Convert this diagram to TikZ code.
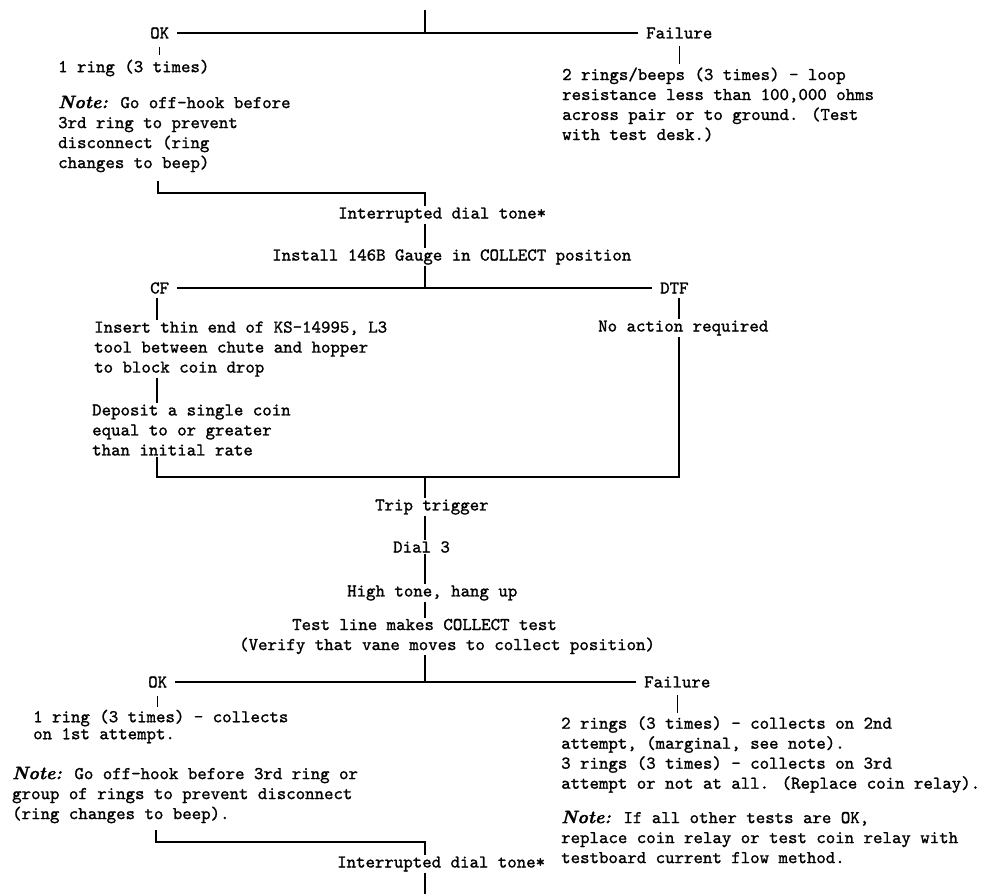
\documentclass[tikz,border=0pt]{standalone}
\usepackage{fontspec}
\usepackage{tikz}
\usetikzlibrary{calc}
\newfontfamily\monofont{lmmono10-regular.otf}[FakeBold=1.2]
\newfontfamily\notefont{lmroman10-bolditalic.otf}[FakeBold=1.5]
\newcommand{\notelbl}{{\notefont Note:}}
\tikzset{
  txt/.style={font=\monofont\fontsize{18}{20}\selectfont, inner xsep=0pt, inner ysep=1pt, anchor=west, align=left},
  lbl/.style={txt, inner xsep=8pt},
  wire/.style={line width=1.4pt},
}
\begin{document}
\begin{tikzpicture}[x=1pt,y=-1pt]
	\useasboundingbox (0,0) rectangle (982,894);
	\coordinate (top) at (425,10);
	\node[lbl] (ok1) at (142,33) {OK};
	\node[lbl] (fail1) at (638,33) {Failure};
	\node[txt] (ring1) at (58,68) {1 ring (3 times)};
	\node[txt] (note1) at (58,134) {\notelbl{} Go off-hook before\\3rd ring to prevent\\disconnect (ring\\changes to beep)};
	\node[txt] (fres1) at (562,104.5) {2 rings/beeps (3 times) \textendash{} loop\\resistance less than 100,000 ohms\\across pair or to ground. (Test\\with test desk.)};
	\coordinate (m1) at (158,193);
	\node[txt] (idt1) at (338,215) {Interrupted dial tone*};
	\node[txt] (inst) at (272,257) {Install 146B Gauge in COLLECT position};
	\node[lbl] (cf) at (142,288) {CF};
	\node[lbl] (dtf) at (652,288) {DTF};
	\node[txt] (ins) at (94,349) {Insert thin end of KS-14995, L3\\tool between chute and hopper\\to block coin drop};
	\node[txt] (dep) at (92,430) {Deposit a single coin\\equal to or greater\\than initial rate};
	\node[txt] (noact) at (598,328) {No action required};
	\coordinate (m2l) at (157,477);
	\coordinate (m2r) at (679,477);
	\node[txt] (trip) at (375,507) {Trip trigger};
	\node[txt] (dial) at (393,547) {Dial 3};
	\node[txt] (high) at (347,593) {High tone, hang up};
	\node[txt] (tst) at (239,636.5) {\hspace*{53pt}Test line makes COLLECT test\\(Verify that vane moves to collect position)};
	\node[lbl] (ok2) at (140,682) {OK};
	\node[lbl] (fail2) at (636,682) {Failure};
	\node[txt] (ring2) at (33,726.5) {1 ring (3 times) \textendash{} collects\\[-3pt]on 1st attempt.};
	\node[txt] (note2) at (12,795) {\notelbl{} Go off-hook before 3rd ring or\\group of rings to prevent disconnect\\(ring changes to beep).};
	\node[txt] (fres2) at (561,754.5) {2 rings (3 times) \textendash{} collects on 2nd\\attempt, (marginal, see note).\\3 rings (3 times) \textendash{} collects on 3rd\\attempt or not at all. (Replace coin relay).};
	\node[txt] (note3) at (561,837) {\notelbl{} If all other tests are OK,\\replace coin relay or test coin relay with\\testboard current flow method.};
	\coordinate (m3) at (156,842);
	\node[txt] (idt2) at (337,864) {Interrupted dial tone*};
	\coordinate (bot) at (425,894);
	% first check
	\draw[wire] (top) -- (top |- ok1);
	\draw[wire] (ok1.east) -- (fail1.west);
	\draw[wire,shorten <=7pt,shorten >=3pt] (ok1.south) -- (ok1.south |- ring1.north);
	\draw[wire,shorten <=6pt,shorten >=2pt] (fail1.south) -- (fail1.south |- fres1.north);
	\draw[wire,shorten <=8pt] (note1.south -| m1) -- (m1) -- (m1 -| top) -- (idt1.north -| top);
	\draw[wire] (idt1.south -| top) -- (inst.north -| top);
	\draw[wire] (inst.south -| top) -- (top |- cf);
	% gauge
	\draw[wire] (cf.east) -- (dtf.west);
	\draw[wire,shorten <=3pt] (cf.south -| m2l) -- (ins.north -| m2l);
	\draw[wire] (ins.south -| m2l) -- (dep.north -| m2l);
	\draw[wire,shorten <=3pt] (dtf.south -| m2r) -- (noact.north -| m2r);
	\draw[wire] (dep.south -| m2l) -- (m2l) -- (m2r) -- (noact.south -| m2r);
	\draw[wire] (m2l -| top) -- (trip.north -| top);
	\draw[wire] (trip.south -| top) -- (dial.north -| top);
	\draw[wire] (dial.south -| top) -- (high.north -| top);
	\draw[wire] (high.south -| top) -- (tst.north -| top);
	% collect test
	\draw[wire] (tst.south -| top) -- (top |- ok2);
	\draw[wire] (ok2.east) -- (fail2.west);
	\draw[wire,shorten <=7pt,shorten >=2pt] (ok2.south) -- (ok2.south |- ring2.north);
	\draw[wire,shorten <=6pt,shorten >=2pt] (fail2.south) -- (fail2.south |- fres2.north);
	\draw[wire,shorten <=6pt] (note2.south -| m3) -- (m3) -- (m3 -| top) -- (idt2.north -| top);
	\draw[wire] (idt2.south -| top) -- (bot);
\end{tikzpicture}
\end{document}
